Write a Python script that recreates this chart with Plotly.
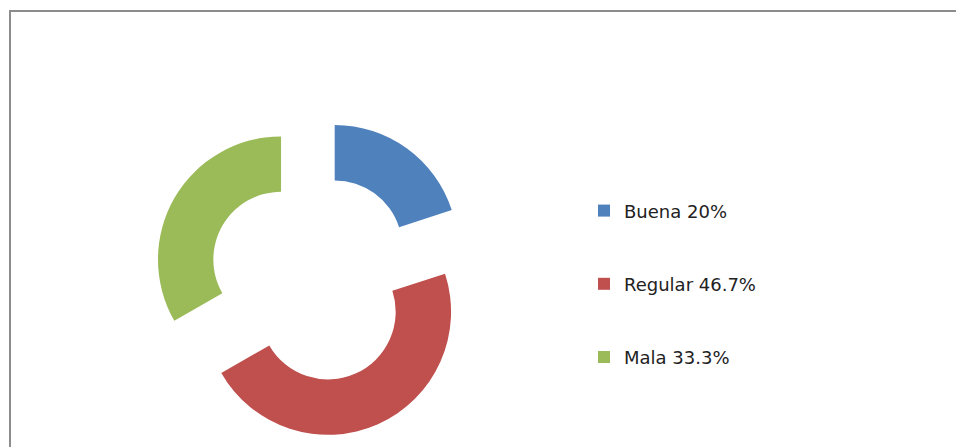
import plotly.graph_objects as go

categories = ["Buena", "Regular", "Mala"]
values = [20, 46.7, 33.3]
pct_labels = ["20%", "46.7%", "33.3%"]
colors = ["#4f81bd", "#c0504d", "#9bbb59"]

labels = [f"&nbsp;<br>{c} {p}<br>&nbsp;" for c, p in zip(categories, pct_labels)]

fig = go.Figure()
fig.add_trace(go.Pie(
    labels=labels,
    values=values,
    hole=0.55,
    sort=False,
    direction="clockwise",
    rotation=0,
    pull=[0.3, 0.3, 0.3],
    marker=dict(colors=colors, line=dict(width=0)),
    textinfo="none",
    hoverinfo="label+percent",
    domain=dict(x=[153/956, 473/956], y=[9/447, 329/447]),
))

fig.add_shape(type="rect", xref="paper", yref="paper",
              x0=10/956, x1=1.05, y0=-0.05, y1=1-11/447,
              line=dict(color="#8c8c8c", width=2), fillcolor="rgba(0,0,0,0)")

fig.update_layout(
    width=956, height=447,
    margin=dict(l=0, r=0, t=0, b=0),
    paper_bgcolor="white",
    plot_bgcolor="white",
    showlegend=True,
    legend=dict(
        x=584/956, xanchor="left",
        y=1-284/447, yanchor="middle",
        font=dict(family="DejaVu Sans", size=18, color="#222222"),
        bgcolor="rgba(0,0,0,0)",
        valign="middle",
        tracegroupgap=0,
    ),
)

fig.write_html(
    "out.html",
    config={"displayModeBar": False},
    post_script="document.body.style.margin='0';document.body.style.overflow='hidden';",
)
